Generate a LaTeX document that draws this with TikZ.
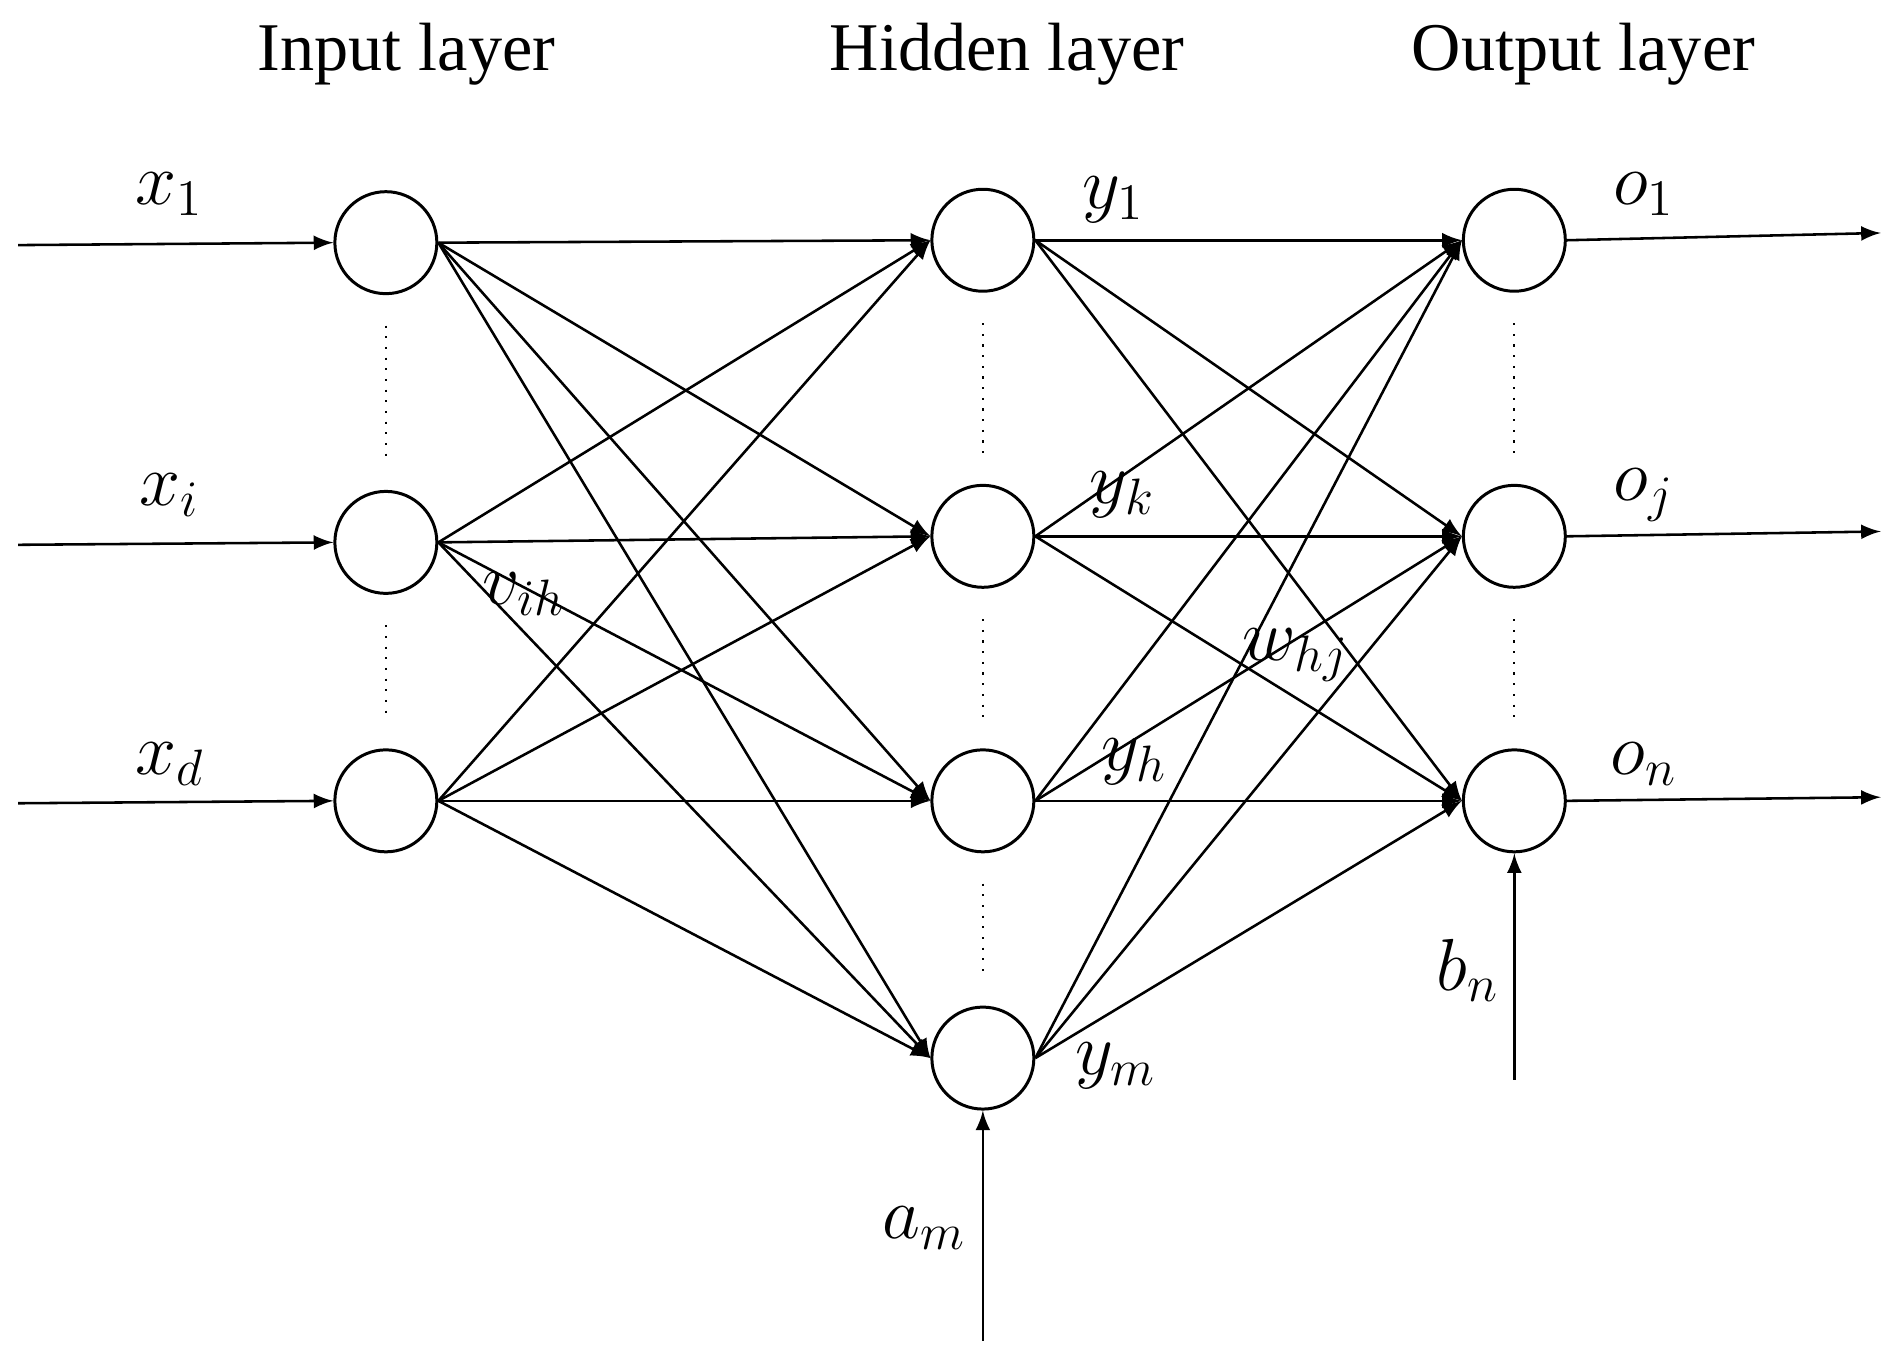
\documentclass[tikz,border=0pt]{standalone}
\usepackage{fontspec}
\setmainfont{Liberation Serif}
\usetikzlibrary{arrows, positioning}
\begin{document}
\begin{tikzpicture}[x=0.01cm, y=-0.01cm,
    neuron/.style={circle, draw, line width=0.7pt, minimum size=0.84cm, inner sep=0pt},
    arrow/.style={-latex, line width=0.6pt},
    dots/.style={dotted, line width=0.5pt},
    lbl/.style={font=\fontsize{17}{17}\selectfont},
    title/.style={font=\fontsize{16}{16}\selectfont}
]
    \useasboundingbox (0,0) rectangle (1565,1116);

    % Titles
    \node [title] at (335,45) {Input layer};
    \node [title] at (830,45) {Hidden layer};
    \node [title] at (1305,45) {Output layer};

    % Neurons
    \node [neuron] (x1) at (318,200) {};
    \node [neuron] (xi) at (318,447) {};
    \node [neuron] (xd) at (318,660) {};
    \node [neuron] (y1) at (810,198) {};
    \node [neuron] (yk) at (810,442) {};
    \node [neuron] (yh) at (810,660) {};
    \node [neuron] (ym) at (810,872) {};
    \node [neuron] (o1) at (1248,198) {};
    \node [neuron] (oj) at (1248,442) {};
    \node [neuron] (on) at (1248,660) {};

    % Dots between neurons
    \foreach \a/\b in {x1/xi, xi/xd, y1/yk, yk/yh, yh/ym, o1/oj, oj/on}
        \draw [dots] ([yshift=-0.25cm]\a.south) -- ([yshift=0.25cm]\b.north);

    % Inputs and outputs
    \coordinate (inA) at (15,202);
    \coordinate (inB) at (15,449);
    \coordinate (inC) at (15,662);
    \draw [arrow] (inA) -- (x1.west);
    \draw [arrow] (inB) -- (xi.west);
    \draw [arrow] (inC) -- (xd.west);
    \coordinate (outA) at (1550,192);
    \coordinate (outB) at (1550,438);
    \coordinate (outC) at (1550,657);
    \draw [arrow] (o1.east) -- (outA);
    \draw [arrow] (oj.east) -- (outB);
    \draw [arrow] (on.east) -- (outC);
    \coordinate (biasA) at (810,1105);
    \coordinate (biasB) at (1248,890);
    \draw [arrow] (biasA) -- (ym.south);
    \draw [arrow] (biasB) -- (on.south);

    % Weights
    \foreach \s in {x1, xi, xd}
        \foreach \t in {y1, yk, yh, ym}
            \draw [arrow] (\s.east) -- (\t.west);
    \foreach \s in {y1, yk, yh, ym}
        \foreach \t in {o1, oj, on}
            \draw [arrow] (\s.east) -- (\t.west);

    % Labels
    \node [lbl] at (140,160) {$x_1$};
    \node [lbl] at (140,408) {$x_i$};
    \node [lbl] at (140,630) {$x_d$};
    \node [lbl] at (918,165) {$y_1$};
    \node [lbl] at (925,408) {$y_k$};
    \node [lbl] at (935,628) {$y_h$};
    \node [lbl] at (920,878) {$y_m$};
    \node [lbl] at (1355,160) {$o_1$};
    \node [lbl] at (1355,408) {$o_j$};
    \node [lbl] at (1355,630) {$o_n$};
    \node [lbl] at (432,490) {$v_{ih}$};
    \node [lbl] at (1068,540) {$w_{hj}$};
    \node [lbl] at (762,1012) {$a_m$};
    \node [lbl] at (1210,800) {$b_n$};
\end{tikzpicture}
\end{document}
